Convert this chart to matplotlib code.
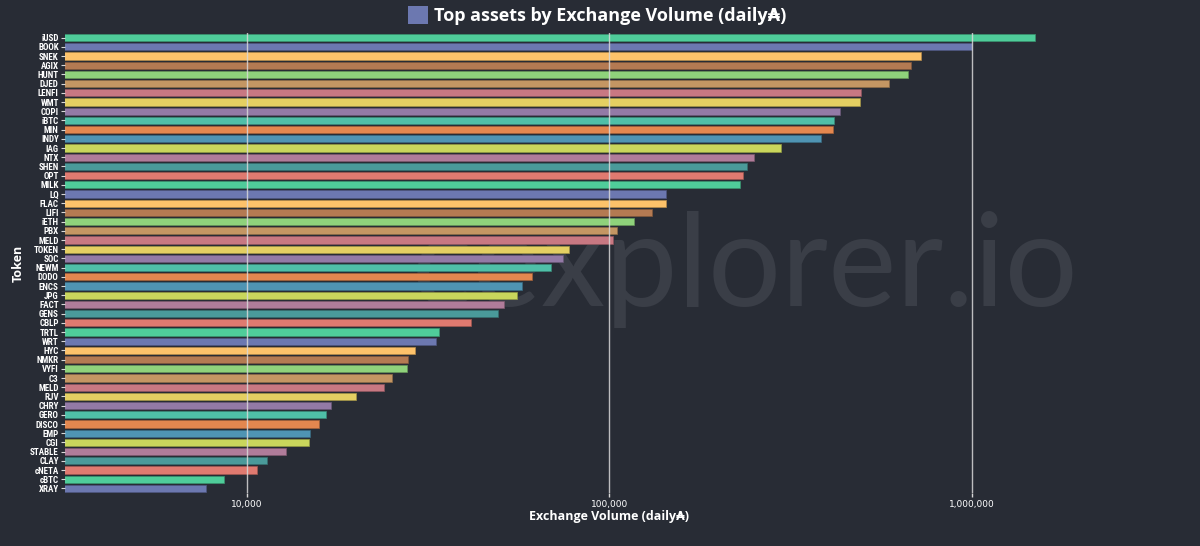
import matplotlib
matplotlib.use("Agg")
import matplotlib.pyplot as plt
from matplotlib import colors as mcolors
from matplotlib.patches import Patch
from matplotlib.ticker import FixedLocator, NullLocator

tokens = ["iUSD", "BOOK", "SNEK", "AGIX", "HUNT", "DJED", "LENFI", "WMT", "COPI", "iBTC",
          "MIN", "INDY", "IAG", "NTX", "SHEN", "OPT", "MILK", "LQ", "FLAC", "LIFI",
          "iETH", "PBX", "MELD", "TOKEN", "SOC", "NEWM", "DODO", "ENCS", "JPG", "FACT",
          "GENS", "CBLP", "TRTL", "WRT", "HYC", "NMKR", "VYFI", "C3", "MELD", "RJV",
          "CHRY", "GERO", "DISCO", "EMP", "CGI", "STABLE", "CLAY", "cNETA", "cBTC", "XRAY"]
volumes = [1489000, 998000, 722000, 678000, 665000, 589000, 493000, 490000, 432000, 416000,
           413000, 383000, 297000, 250000, 239000, 233000, 229000, 143000, 143500, 131000,
           116800, 104900, 102200, 77300, 74400, 69000, 61100, 57400, 55600, 51200,
           49300, 41500, 33900, 33300, 29100, 27800, 27600, 25200, 23900, 20000,
           17100, 16500, 15800, 14900, 14800, 12800, 11400, 10700, 8660, 7720]

palette = ["#4fcc9a", "#6c78b0", "#fdc26a", "#b47a52", "#8fd27b", "#c49663", "#c87882", "#e4cf62",
           "#937aa6", "#4fbfa8", "#e3874f", "#4f94b3", "#c9d65c", "#b07c9a", "#4a9a9a", "#e07a70"]
colors = [palette[i % len(palette)] for i in range(len(tokens))]
# slightly darker outline for each bar
edges = [tuple(c * 0.72 for c in mcolors.to_rgb(col)) for col in colors]

bg = "#282c35"
fig = plt.figure(figsize=(12, 5.46), dpi=100, facecolor=bg)
ax = fig.add_axes([65 / 1200, 53 / 546, (1153 - 65) / 1200, 460 / 546])
ax.set_facecolor("none")

# watermark behind the bars
fig.text(1078 / 1200, 1 - 306 / 546, "cexplorer.io", ha="right", va="baseline",
         fontsize=93, color="#3a3e47", family="Lato", zorder=-1)

ypos = list(range(len(tokens)))
ax.barh(ypos, volumes, height=0.78, color=colors, edgecolor=edges, linewidth=0.5, zorder=2)

ax.set_xscale("log")
ax.set_xlim(3155, 3.15e6)
ax.set_ylim(len(tokens) - 0.5, -0.5)

ax.xaxis.set_major_locator(FixedLocator([1e4, 1e5, 1e6]))
ax.xaxis.set_minor_locator(NullLocator())
ax.set_xticklabels(["10,000", "100,000", "1,000,000"])
ax.grid(axis="x", color="#d8d8d8", linewidth=1, alpha=0.85, zorder=3)
ax.set_axisbelow(False)

ax.set_yticks(ypos)
ax.set_yticklabels(tokens)

for s in ax.spines.values():
    s.set_visible(False)

ax.tick_params(axis="x", colors="#d8d8d8", length=3, width=1, labelsize=6.5, labelcolor="white", pad=2)
ax.tick_params(axis="y", colors="#d8d8d8", length=3, width=0.8, labelsize=6.5, labelcolor="white", pad=1.5)
for lbl in ax.get_yticklabels():
    lbl.set_fontweight("bold")
    lbl.set_family(["Roboto Condensed", "Liberation Sans Narrow", "DejaVu Sans"])
    lbl.set_fontstretch("condensed")

ax.set_xlabel("Exchange Volume (daily\u20b3)", color="white", fontsize=9, fontweight="bold",
              family=["Open Sans", "DejaVu Sans"], labelpad=1)
ax.set_ylabel("Token", color="white", fontsize=9, fontweight="bold",
              family=["Open Sans", "DejaVu Sans"], labelpad=3.5)

fig.legend(handles=[Patch(facecolor="#6c78b0")], labels=["Top assets by Exchange Volume (daily\u20b3)"],
           loc="upper center", bbox_to_anchor=(597 / 1200, 1.018), frameon=False,
           handlelength=1.1, handleheight=1.1, handletextpad=0.35,
           prop={"family": ["Open Sans", "DejaVu Sans"], "weight": "bold", "size": 13},
           labelcolor="white")

fig.savefig("out.png", dpi=100, facecolor=bg)
